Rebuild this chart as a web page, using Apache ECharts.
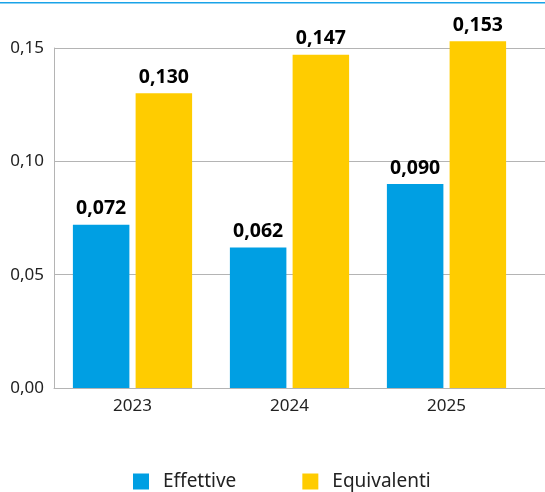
<!DOCTYPE html>
<html>
<head>
<meta charset="utf-8">
<script src="https://cdn.jsdelivr.net/npm/echarts@6/dist/echarts.min.js"></script>
<style>html,body{margin:0;padding:0;background:#fff}#c{width:545px;height:492px}</style>
</head>
<body>
<div id="c"></div>
<script>
const categories = ['2023', '2024', '2025'];
const effettive = [0.072, 0.062, 0.090];
const equivalenti = [0.130, 0.147, 0.153];
const seriesNames = ['Effettive', 'Equivalenti'];
const yMin = 0, yMax = 0.15, yStep = 0.05;

const fmt = v => v.toFixed(2).replace('.', ',');
const fmt3 = p => p.value.toFixed(3).replace('.', ',');
const font = 'Noto Sans';
const gray = '#b4b4b4';

const chart = echarts.init(document.getElementById('c'), null, {renderer: 'canvas'});
chart.setOption({
  animation: false,
  color: ['#009fe3', '#ffcc00'],
  graphic: [{
    type: 'rect', left: 0, top: 2, shape: {width: 545, height: 1.5},
    style: {fill: '#1aa3e8'}
  }],
  grid: [
    {left: 54, right: 0, top: 48, bottom: 104},
    {left: 54, right: 20, top: 48, bottom: 104}
  ],
  xAxis: [
    {gridIndex: 0, type: 'value', min: 0, max: 1, axisLine: {show: true, onZero: false, lineStyle: {color: gray, width: 1}},
     axisTick: {show: false}, axisLabel: {show: false}, splitLine: {show: false}},
    {gridIndex: 1, type: 'category', data: categories, axisLine: {show: false}, axisTick: {show: false},
     axisLabel: {margin: 10, fontFamily: font, fontSize: 17, color: '#222'}}
  ],
  yAxis: [
    {gridIndex: 0, type: 'value', min: yMin, max: yMax, interval: yStep,
     axisLine: {show: true, lineStyle: {color: gray, width: 1}}, axisTick: {show: false},
     splitLine: {lineStyle: {color: gray, width: 1}},
     axisLabel: {formatter: fmt, margin: 10, fontFamily: font, fontSize: 17, color: '#222'}},
    {gridIndex: 1, type: 'value', min: yMin, max: yMax, interval: yStep, show: false}
  ],
  legend: {
    left: 128, top: 467, itemWidth: 16, itemHeight: 16, itemGap: 66, icon: 'rect',
    textStyle: {fontFamily: font, fontSize: 19, color: '#222', padding: [0, 0, 0, 9]},
    data: seriesNames
  },
  series: [
    {name: seriesNames[0], type: 'bar', xAxisIndex: 1, yAxisIndex: 1, data: effettive, barWidth: 56.5, barGap: '11%', clip: false,
     label: {show: true, position: 'top', distance: 6, formatter: fmt3, fontFamily: font, fontWeight: 'bold', fontSize: 19.5, color: '#000'}},
    {name: seriesNames[1], type: 'bar', xAxisIndex: 1, yAxisIndex: 1, data: equivalenti, barWidth: 56.5, barGap: '11%', clip: false,
     label: {show: true, position: 'top', distance: 6, formatter: fmt3, fontFamily: font, fontWeight: 'bold', fontSize: 19.5, color: '#000'}}
  ]
});
</script>
</body>
</html>
